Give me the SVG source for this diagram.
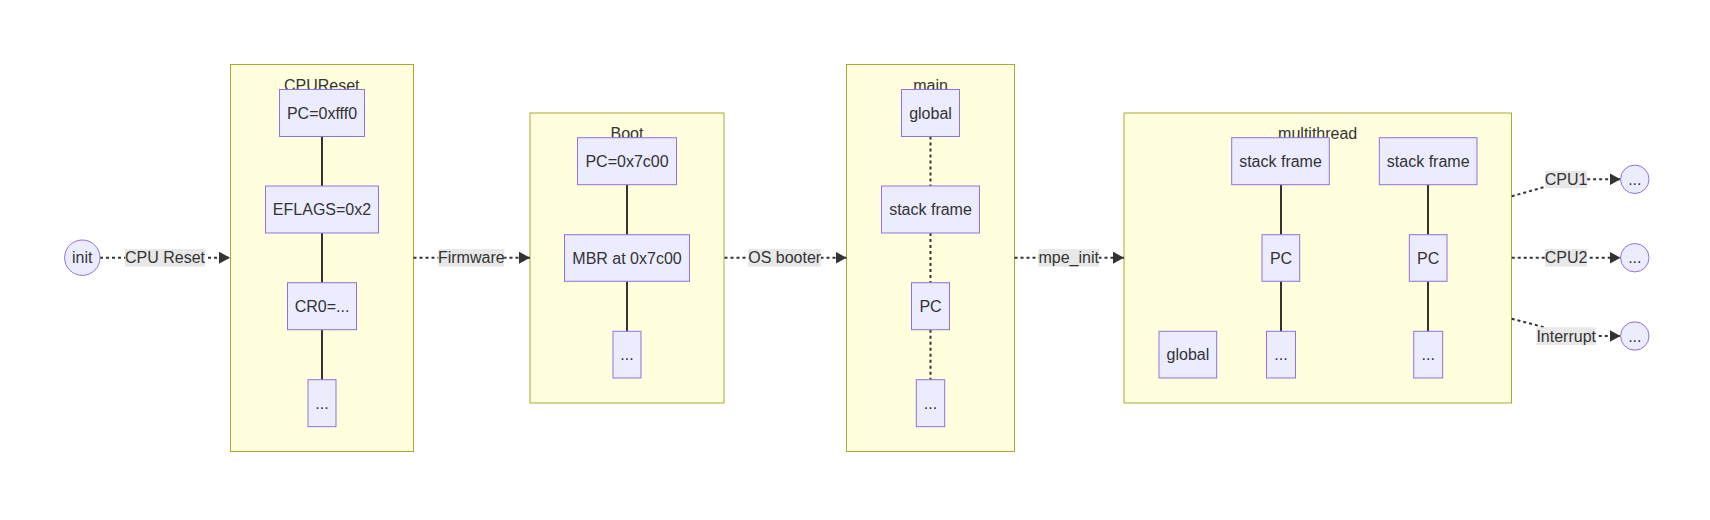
<svg xmlns="http://www.w3.org/2000/svg" width="1710" height="520" viewBox="0 0 1710 520">
<style>
text{font-family:"Liberation Sans",Arial,sans-serif;font-size:16px;fill:#333;text-anchor:middle}
.cl{fill:#ffffde;stroke:#aaaa33;stroke-width:1}
.nd{fill:#ECECFF;stroke:#9370DB;stroke-width:1}
.ln{fill:none;stroke:#333;stroke-width:2}
.dt{fill:none;stroke:#333;stroke-width:2;stroke-dasharray:3 3}
.lb{fill:#e8e8e8}
</style>
<defs>
<marker id="ah" viewBox="0 0 11 12" refX="11" refY="6" markerWidth="11" markerHeight="12" markerUnits="userSpaceOnUse" orient="auto">
<path d="M0,0 L11,6 L0,12 z" fill="#333"/>
</marker>
</defs>
<rect width="1710" height="520" fill="#fff"/>
<g id="clusters">
<g id="cluster-CPUReset"><rect class="cl" x="230.5" y="64.5" width="183" height="387"/><text x="321.7" y="90.8">CPUReset</text></g>
<g id="cluster-Boot"><rect class="cl" x="530" y="113" width="194" height="290"/><text x="627" y="139.2">Boot</text></g>
<g id="cluster-main"><rect class="cl" x="846.5" y="64.5" width="168" height="387"/><text x="930.5" y="90.8">main</text></g>
<g id="cluster-multithread"><rect class="cl" x="1124" y="113" width="387.5" height="290"/><text x="1317.7" y="139.4">multithread</text></g>
</g>
<g id="connectors">
<path class="dt" d="M100,257.7 L230,257.7" marker-end="url(#ah)"/>
<path class="dt" d="M413.5,257.7 L530,257.7" marker-end="url(#ah)"/>
<path class="dt" d="M724.5,257.7 L846.5,257.7" marker-end="url(#ah)"/>
<path class="dt" d="M1014.5,257.7 L1124,257.7" marker-end="url(#ah)"/>
<path class="dt" d="M1511.7,196.3 L1548,186 Q1558,179.3 1575,179.3 L1620.5,179.3" marker-end="url(#ah)"/>
<path class="dt" d="M1511.7,257.7 L1620.5,257.7" marker-end="url(#ah)"/>
<path class="dt" d="M1511.7,318.7 L1545,327.5 Q1556,336 1572,336 L1620.5,336" marker-end="url(#ah)"/>
<path class="ln" d="M322,136.5 V186 M322,233 V282.7 M322,329.7 V379.7"/>
<path class="ln" d="M627,184.7 V234.7 M627,281.3 V331.3"/>
<path class="dt" d="M930.5,136.5 V186 M930.5,233 V282.7 M930.5,329.7 V379.7"/>
<path class="ln" d="M1281,184.7 V234.7 M1281,281.3 V331.3"/>
<path class="ln" d="M1428,184.7 V234.7 M1428,281.3 V331.3"/>
<g id="edge-labels">
<rect class="lb" x="125" y="249" width="80" height="17.7"/><text x="165" y="263.3">CPU Reset</text>
<rect class="lb" x="438.3" y="249" width="66" height="17.7"/><text x="471.3" y="263.3">Firmware</text>
<rect class="lb" x="748.3" y="249" width="72.7" height="17.7"/><text x="784.7" y="263.3">OS booter</text>
<rect class="lb" x="1038.3" y="249" width="60.7" height="17.7"/><text x="1068.7" y="263.3">mpe_init</text>
<rect class="lb" x="1545" y="170.7" width="42" height="17.6"/><text x="1566" y="185">CPU1</text>
<rect class="lb" x="1545" y="249" width="42" height="17.7"/><text x="1566" y="263.3">CPU2</text>
<rect class="lb" x="1536.3" y="327.3" width="59.7" height="17.7"/><text x="1566.2" y="341.6">Interrupt</text>
</g>
</g>
<g id="init"><circle class="nd" cx="82.3" cy="257.7" r="17.7"/><text x="82.3" y="263.3">init</text></g>
<g id="c1"><rect class="nd" x="279.5" y="89.5" width="85" height="47"/><text x="322" y="118.5">PC=0xfff0</text></g>
<g id="c2"><rect class="nd" x="265.5" y="186" width="113" height="47"/><text x="322" y="215">EFLAGS=0x2</text></g>
<g id="c3"><rect class="nd" x="287.5" y="282.7" width="69" height="47"/><text x="322" y="311.8">CR0=...</text></g>
<g id="c4"><rect class="nd" x="308" y="379.7" width="28" height="47"/><text x="322" y="408.8">...</text></g>
<g id="b1"><rect class="nd" x="577.5" y="137.7" width="99" height="47"/><text x="627" y="166.8">PC=0x7c00</text></g>
<g id="b2"><rect class="nd" x="564.5" y="234.7" width="125" height="46.6"/><text x="627" y="263.5">MBR at 0x7c00</text></g>
<g id="b3"><rect class="nd" x="613" y="331.3" width="28" height="46.7"/><text x="627" y="360.3">...</text></g>
<g id="m1"><rect class="nd" x="901.5" y="89.5" width="58" height="47"/><text x="930.5" y="118.5">global</text></g>
<g id="m2"><rect class="nd" x="881.5" y="186" width="98" height="47"/><text x="930.5" y="215">stack frame</text></g>
<g id="m3"><rect class="nd" x="911.5" y="282.7" width="38" height="47"/><text x="930.5" y="311.8">PC</text></g>
<g id="m4"><rect class="nd" x="916.3" y="379.7" width="28.4" height="47"/><text x="930.5" y="408.8">...</text></g>
<g id="t1s"><rect class="nd" x="1231.7" y="137.7" width="97.6" height="47"/><text x="1280.5" y="166.8">stack frame</text></g>
<g id="t2s"><rect class="nd" x="1379.3" y="137.7" width="97.7" height="47"/><text x="1428.2" y="166.8">stack frame</text></g>
<g id="t1p"><rect class="nd" x="1262" y="234.7" width="37.7" height="46.6"/><text x="1281" y="263.5">PC</text></g>
<g id="t2p"><rect class="nd" x="1409.3" y="234.7" width="37.7" height="46.6"/><text x="1428.2" y="263.5">PC</text></g>
<g id="t1d"><rect class="nd" x="1266.5" y="331.3" width="29" height="46.7"/><text x="1281" y="360.3">...</text></g>
<g id="t2d"><rect class="nd" x="1413.7" y="331.3" width="29" height="46.7"/><text x="1428.2" y="360.3">...</text></g>
<g id="mglobal"><rect class="nd" x="1159" y="331.3" width="57.7" height="46.7"/><text x="1187.9" y="360.3">global</text></g>
<g id="o1"><circle class="nd" cx="1634.8" cy="179.3" r="14.2"/><text x="1634.8" y="184.8">...</text></g>
<g id="o2"><circle class="nd" cx="1634.8" cy="257.7" r="14.2"/><text x="1634.8" y="263.3">...</text></g>
<g id="o3"><circle class="nd" cx="1634.8" cy="336" r="14.2"/><text x="1634.8" y="341.5">...</text></g>
</svg>
